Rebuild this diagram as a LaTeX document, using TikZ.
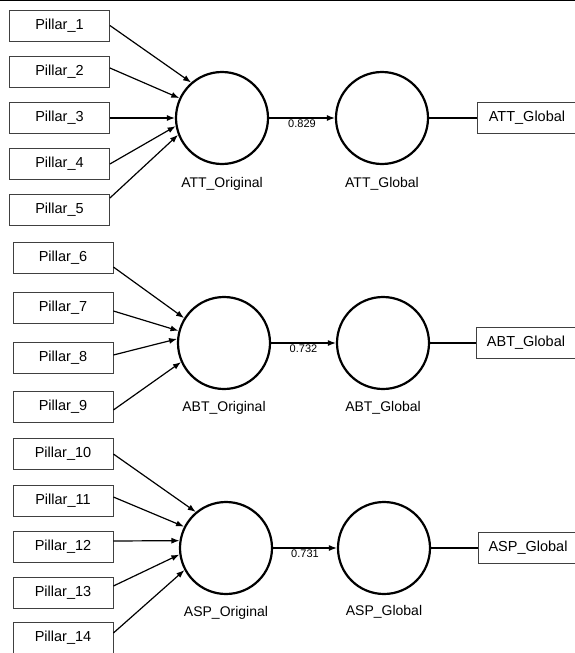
\documentclass[tikz,border=0pt]{standalone}
\usepackage{fontspec}
\setmainfont{Liberation Sans}
\usetikzlibrary{arrows.meta}
\tikzset{
  pillar/.style={draw=black!75, line width=0.8pt, minimum width=100pt, minimum height=31pt, inner sep=0pt, font=\fontsize{14.5}{16}\selectfont},
  latent/.style={circle, draw, line width=2.2pt, minimum size=92pt, inner sep=0pt},
  nom/.style={font=\fontsize{14}{16}\selectfont},
  fleche/.style={line width=1.2pt, -{Latex[length=8pt,width=6pt]}},
  poids/.style={below, inner sep=1.5pt, font=\fontsize{11}{12}\selectfont}
}
\begin{document}
\begin{tikzpicture}[x=1pt, y=-1pt]
    \useasboundingbox (0,0) rectangle (575,653);
    \draw[line width=1.5pt] (0,0.5) -- (575,0.5);

    % Bloc ATT
    \node[pillar] (p1) at (59.5,25.5) {Pillar\_1};
    \node[pillar] (p2) at (59.5,72) {Pillar\_2};
    \node[pillar] (p3) at (59.5,118) {Pillar\_3};
    \node[pillar] (p4) at (59.5,164) {Pillar\_4};
    \node[pillar] (p5) at (59.5,210) {Pillar\_5};
    \node[latent] (att) at (222,118) {};
    \node[latent] (attg) at (382,118) {};
    \node[nom] (attl) at (222,184) {ATT\_Original};
    \node[nom] (attgl) at (382,184) {ATT\_Global};
    \node[pillar] (attb) at (527,118) {ATT\_Global};
    \draw[fleche] (p1.east) -- (att.131);
    \draw[fleche] ([yshift=4pt]p2.east) -- (att.155);
    \draw[fleche] (p3.east) -- (att.180);
    \draw[fleche] (p4.east) -- (att.190);
    \draw[fleche] ([yshift=12pt]p5.east) -- (att.201);
    \draw[fleche] (att) -- node[poids] {0.829} (attg);
    \draw[line width=1.2pt] (attg) -- (attb);

    % Bloc ABT
    \node[pillar] (p6) at (63,258) {Pillar\_6};
    \node[pillar] (p7) at (63,308) {Pillar\_7};
    \node[pillar] (p8) at (63,358) {Pillar\_8};
    \node[pillar] (p9) at (63,407) {Pillar\_9};
    \node[latent] (abt) at (224,343) {};
    \node[latent] (abtg) at (383,343) {};
    \node[nom] (abtl) at (224,408) {ABT\_Original};
    \node[nom] (abtgl) at (383,408) {ABT\_Global};
    \node[pillar] (abtb) at (526,343) {ABT\_Global};
    \draw[fleche] ([yshift=-9pt]p6.east) -- (abt.148);
    \draw[fleche] ([yshift=-3pt]p7.east) -- (abt.165);
    \draw[fleche] ([yshift=3pt]p8.east) -- (abt.175);
    \draw[fleche] ([yshift=-3pt]p9.east) -- (abt.204);
    \draw[fleche] (abt) -- node[poids] {0.732} (abtg);
    \draw[line width=1.2pt] (abtg) -- (abtb);

    % Bloc ASP
    \node[pillar] (p10) at (63,454) {Pillar\_10};
    \node[pillar] (p11) at (63,501) {Pillar\_11};
    \node[pillar] (p12) at (63,547) {Pillar\_12};
    \node[pillar] (p13) at (63,593) {Pillar\_13};
    \node[pillar] (p14) at (63,638) {Pillar\_14};
    \node[latent] (asp) at (226,548) {};
    \node[latent] (aspg) at (384,548) {};
    \node[nom] (aspl) at (226,613) {ASP\_Original};
    \node[nom] (aspgl) at (384,612) {ASP\_Global};
    \node[pillar] (aspb) at (528,548) {ASP\_Global};
    \draw[fleche] (p10.east) -- (asp.130);
    \draw[fleche] ([yshift=4pt]p11.east) -- (asp.153);
    \draw[fleche] ([yshift=6pt]p12.east) -- (asp.171);
    \draw[fleche] ([yshift=7pt]p13.east) -- (asp.188);
    \draw[fleche] ([yshift=5pt]p14.east) -- (asp.208);
    \draw[fleche] (asp) -- node[poids] {0.731} (aspg);
    \draw[line width=1.2pt] (aspg) -- (aspb);
\end{tikzpicture}
\end{document}
